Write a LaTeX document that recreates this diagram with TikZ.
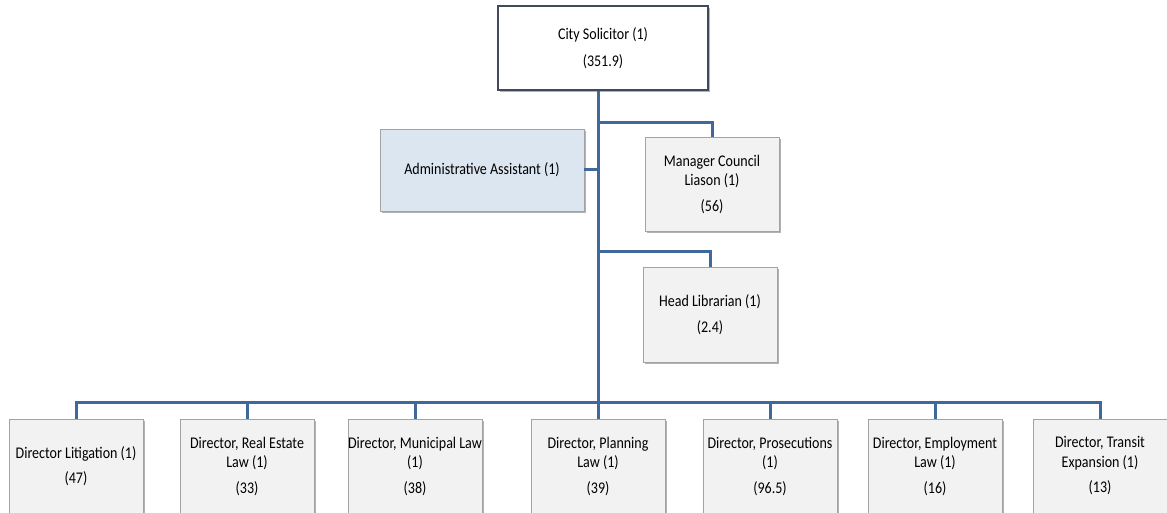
\documentclass[tikz,border=0pt]{standalone}
\usepackage{fontspec}
\setmainfont{Carlito}[FakeStretch=0.86]
\usetikzlibrary{shadows}
\definecolor{boxfill}{HTML}{F2F2F2}
\definecolor{boxgray}{HTML}{A3A3A3}
\definecolor{adminfill}{HTML}{DCE6F1}
\definecolor{connblue}{HTML}{41689A}
\definecolor{topedge}{HTML}{404A5C}
\tikzset{
  orgbox/.style={draw=boxgray, fill=boxfill, line width=0.8pt, align=center,
    inner sep=0pt, font=\fontsize{16.3}{19.5}\selectfont,
    drop shadow={shadow xshift=2pt, shadow yshift=-2pt, fill=black, opacity=0.3}},
  dirbox/.style={orgbox, minimum width=134pt, minimum height=94pt},
  conn/.style={draw=connblue, line width=3pt}
}
\begin{document}
\begin{tikzpicture}[x=1pt,y=-1pt]
\useasboundingbox (0,0) rectangle (1167,513);
\clip (0,0) rectangle (1167,513);
\node[orgbox, fill=white, draw=topedge, line width=2pt, minimum width=210pt, minimum height=84pt] (top) at (603,48) {City Solicitor (1)\\[7pt](351.9)};
\node[orgbox, fill=adminfill, minimum width=204pt, minimum height=82pt] (admin) at (482,170) {Administrative Assistant (1)};
\node[dirbox] (mgr) at (712,184) {Manager Council\\Liason (1)\\[6pt](56)};
\node[dirbox, minimum height=95pt] (lib) at (710,314.5) {Head Librarian (1)\\[6pt](2.4)};
\node[dirbox] (d1) at (76,466) {Director Litigation (1)\\[6pt](47)};
\node[dirbox] (d2) at (247,466) {Director, Real Estate\\Law (1)\\[6pt](33)};
\node[dirbox] (d3) at (415,466) {Director, Municipal Law\\(1)\\[6pt](38)};
\node[dirbox] (d4) at (598,466) {Director, Planning\\Law (1)\\[6pt](39)};
\node[dirbox] (d5) at (770,466) {Director, Prosecutions\\(1)\\[6pt](96.5)};
\node[dirbox] (d6) at (935,466) {Director, Employment\\Law (1)\\[6pt](16)};
\node[dirbox] (d7) at (1100,466) {Director, Transit\\Expansion (1)\\[6pt](13)};
\coordinate (trunk) at ([xshift=-5pt]top.south);
\coordinate (j1) at (598,123);
\coordinate (j2) at (598,251);
\coordinate (bar) at (598,402);
\draw[conn] (trunk) -- (bar);
\draw[conn] (admin.east) -- (admin.east -| trunk);
\draw[conn] (j1) -| (mgr.north);
\draw[conn] (j2) -| (lib.north);
\foreach \d in {d1,d2,d3,d4,d5,d6,d7}{
  \draw[conn] (bar) -| (\d.north);
}
\end{tikzpicture}
\end{document}
